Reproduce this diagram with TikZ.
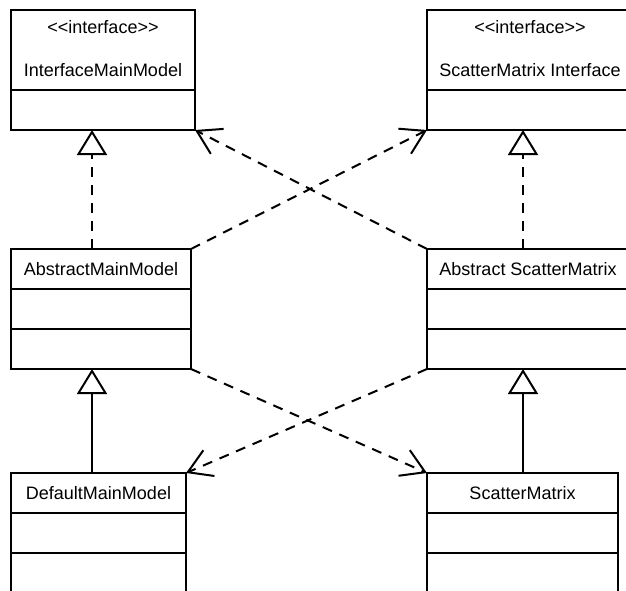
\documentclass[tikz,border=0pt]{standalone}
\usepackage{fontspec}
\newfontfamily\umlfont{Liberation Sans}
\usepackage{tikz}
\usetikzlibrary{shapes, positioning, arrows.meta}

\newcommand{\cellstrut}{\rule[-12.5pt]{0pt}{38pt}}
\newcommand{\ifacehead}[1]{\begin{tabular}{@{}c@{}}\rule[-19.5pt]{0pt}{42pt}<<interface>>\\ \rule[-12pt]{0pt}{36pt}#1\end{tabular}}

\tikzset{
  classbox/.style={rectangle split, rectangle split parts=3, draw, line width=2pt, inner xsep=0pt, inner ysep=0pt, outer sep=0pt, font=\umlfont\fontsize{18pt}{22pt}\selectfont},
  ifacebox/.style={classbox, rectangle split parts=2},
  realize/.style={line width=2pt, dash pattern=on 10pt off 8pt, -{Triangle[open, length=25pt, width=30pt]}},
  inherit/.style={line width=2pt, -{Triangle[open, length=25pt, width=30pt]}},
  depend/.style={line width=2pt, dash pattern=on 10pt off 8pt, -{Straight Barb[length=23pt, width=28pt]}}
}

\begin{document}
\begin{tikzpicture}[x=1pt, y=1pt]

\useasboundingbox (0,0) rectangle (626,-591);
\clip (0,0) rectangle (626,-591);

\node[ifacebox, minimum width=184pt, anchor=north west] (imm) at (11,-10) {\ifacehead{InterfaceMainModel} \nodepart{two} \cellstrut};

\node[ifacebox, minimum width=206pt, right=232pt of imm.north east, anchor=north west] (smi) {\ifacehead{ScatterMatrix Interface} \nodepart{two} \cellstrut};

\node[classbox, minimum width=180pt, below=119pt of imm.south west, anchor=north west] (amm) {\cellstrut AbstractMainModel \nodepart{two} \cellstrut \nodepart{three} \cellstrut};

\node[classbox, minimum width=202pt, right=236pt of amm.north east, anchor=north west] (asm) {\cellstrut Abstract ScatterMatrix \nodepart{two} \cellstrut \nodepart{three} \cellstrut};

\node[classbox, minimum width=175pt, below=104pt of amm.south west, anchor=north west] (dmm) {\cellstrut DefaultMainModel \nodepart{two} \cellstrut \nodepart{three} \cellstrut};

\node[classbox, minimum width=191pt, right=241pt of dmm.north east, anchor=north west] (sm) {\cellstrut ScatterMatrix \nodepart{two} \cellstrut \nodepart{three} \cellstrut};

% columns of the vertical connectors
\coordinate (lcol) at ([xshift=81pt]amm.north west);
\coordinate (rcol) at ([xshift=96pt]asm.north west);

\draw[realize] (amm.north -| lcol) -- (imm.south -| lcol);
\draw[realize] (asm.north -| rcol) -- (smi.south -| rcol);

\draw[inherit] (dmm.north -| lcol) -- (amm.south -| lcol);
\draw[inherit] (sm.north -| rcol) -- (asm.south -| rcol);

\draw[depend] (amm.north east) -- (smi.south west);
\draw[depend] (asm.north west) -- (imm.south east);
\draw[depend] (amm.south east) -- (sm.north west);
\draw[depend] (asm.south west) -- (dmm.north east);

\end{tikzpicture}
\end{document}
